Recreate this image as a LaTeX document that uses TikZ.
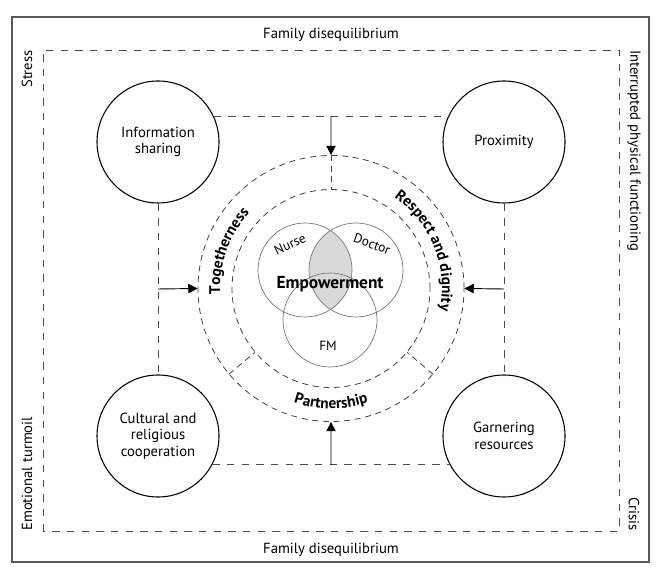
\documentclass[tikz,border=0pt]{standalone}
\usepackage{fontspec}
\setmainfont{PT Sans}
\usetikzlibrary{calc,arrows.meta,decorations.text}

\tikzset{
  theme/.style={draw, circle, line width=0.8pt, minimum size=91.5pt, inner sep=0pt,
    align=center, font=\fontsize{11}{12.5}\selectfont},
  ring/.style={draw=black!75, circle, dash pattern=on 4.5pt off 3.5pt, line width=0.6pt,
    inner sep=0pt},
  longdash/.style={draw=black!70, dash pattern=on 5.5pt off 5.5pt, line width=0.7pt},
  venn/.style={draw=black!55, circle, line width=0.5pt, minimum size=70.5pt, inner sep=0pt},
  flow/.style={-{Triangle[length=7pt,width=7pt]}, line width=0.7pt},
  sidelabel/.style={font=\fontsize{11}{12.5}\selectfont, inner sep=0pt},
}

\begin{document}
\begin{tikzpicture}[x=0.75pt, y=0.75pt]
    \useasboundingbox (0,0) rectangle (666,581);
    % frame and outer dashed box
    \draw[black!65, line width=1pt] (12,19) rectangle (649,564);
    \draw[longdash] (43,50) rectangle (619,531);
    \node[sidelabel] (famtop) at (331,546) {Family disequilibrium};
    \node[sidelabel] (fambot) at (331,31) {Family disequilibrium};
    \node[sidelabel, rotate=90] (stress) at (27,512) {Stress};
    \node[sidelabel, rotate=90, anchor=west] (turmoil) at (27,50) {Emotional turmoil};
    \node[sidelabel, rotate=-90, anchor=west] (interr) at (634,531) {Interrupted physical functioning};
    \node[sidelabel, rotate=-90] (crisis) at (634,67) {Crisis};
    % the four themes
    \node[theme] (info) at (158,439) {Information\\sharing};
    \node[theme] (prox) at (504,439) {Proximity};
    \node[theme] (cult) at (158,145) {Cultural and\\religious\\cooperation};
    \node[theme] (garn) at (504,145) {Garnering\\resources};
    % dashed links between themes
    \draw[longdash] (info.25) -- (prox.155);
    \draw[longdash] (cult.-28) -- (garn.208);
    \draw[longdash] (info.south) -- (cult.north);
    \draw[longdash] (prox.south) -- (garn.north);
    % rings round the centre
    \coordinate (ctr) at (331,292.5);
    \node[ring, minimum size=199.5pt] (outer) at (ctr) {};
    \node[ring, minimum size=148.5pt] (inner) at (ctr) {};
    \draw[ring] (outer.north) -- (inner.north);
    \draw[ring] (outer.220) -- (inner.220);
    \draw[ring] (outer.320) -- (inner.320);
    % arrows into the rings
    \coordinate (tmid) at ($(info.25)!0.5!(prox.155)$);
    \coordinate (bmid) at ($(cult.-28)!0.5!(garn.208)$);
    \coordinate (lmid) at ($(info.south)!0.5!(cult.north)$);
    \coordinate (rmid) at ($(prox.south)!0.5!(garn.north)$);
    \draw[flow] (tmid) -- (outer.north);
    \draw[flow] (bmid) -- (outer.south);
    \draw[flow] (lmid) -- (outer.west);
    \draw[flow] (rmid) -- (outer.east);
    % ring labels
    \path[decorate, decoration={text along path, text align=center,
      text={|\fontsize{11.5}{13}\selectfont\bfseries|Togetherness}}]
      (ctr) ++(220:111) arc[start angle=220, end angle=100, radius=111];
    \path[decorate, decoration={text along path, text align=center,
      text={|\fontsize{11.5}{13}\selectfont\bfseries|Respect and dignity}}]
      (ctr) ++(82:111) arc[start angle=82, end angle=-38, radius=111];
    \path[decorate, decoration={text along path, text align=center,
      text={|\fontsize{11.5}{13}\selectfont\bfseries|Partnership}}]
      (ctr) ++(230:120) arc[start angle=230, end angle=310, radius=120];
    % venn in the middle
    \begin{scope}
      \clip (305,311) circle[radius=47];
      \fill[gray!30] (356,311) circle[radius=47];
    \end{scope}
    \node[venn] (nurse) at (305,311) {};
    \node[venn] (doctor) at (356,311) {};
    \node[venn] (fm) at (330,261) {};
    \node[rotate=25, font=\fontsize{10}{12}\selectfont] (nursel) at (290,337) {Nurse};
    \node[rotate=-20, font=\fontsize{10}{12}\selectfont] (doctorl) at (372,337) {Doctor};
    \node[font=\fontsize{10}{12}\selectfont] (fml) at (328,235) {FM};
    \node[font=\fontsize{13}{15}\selectfont\bfseries] (emp) at (330,297) {Empowerment};
\end{tikzpicture}
\end{document}
